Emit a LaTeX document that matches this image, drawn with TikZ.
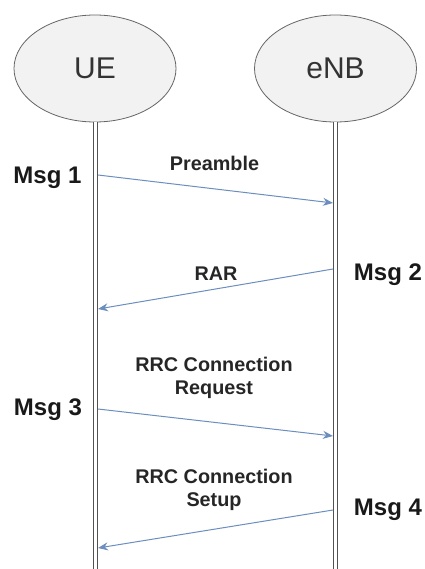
\documentclass[tikz,border=0pt]{standalone}
\usepackage{fontspec}
\setmainfont{Liberation Sans}
\usetikzlibrary{arrows.meta,shapes.geometric}
\definecolor{lifegray}{HTML}{333333}
\definecolor{entfill}{HTML}{F2F2F2}
\definecolor{entline}{HTML}{666666}
\definecolor{msgblue}{HTML}{6C8EBF}
\tikzset{
  entity/.style={ellipse, draw=entline, fill=entfill, line width=0.8pt,
    minimum width=162pt, minimum height=107pt, inner sep=0pt,
    text=lifegray, font=\fontsize{30}{36}\selectfont},
  lifeline/.style={draw=lifegray!85, line width=0.9pt, double=white, double distance=3.6pt},
  msgarrow/.style={draw=msgblue, line width=1pt, -{Stealth[length=10pt,width=8pt]}},
  msgtag/.style={font=\bfseries\fontsize{24}{28}\selectfont, text=black!90, inner sep=0pt},
  msglabel/.style={font=\bfseries\fontsize{19.8}{23}\selectfont, text=black!85,
    align=center, inner sep=0pt}
}
\begin{document}
\begin{tikzpicture}[x=1pt,y=-1pt]
  \useasboundingbox (0,0) rectangle (424,569);

  % participants
  \node[entity] (ue)  at (95,68.5)  {UE};
  \node[entity] (enb) at (335.5,68.5) {eNB};

  % lifelines
  \coordinate (ueend)  at (95.5,572);
  \coordinate (enbend) at (335.5,572);
  \draw[lifeline] (95.5,0 |- ue.south) -- (ueend);
  \draw[lifeline] (335.5,0 |- enb.south) -- (enbend);

  % message end points on the lifelines
  \coordinate (m1a) at (98,175);  \coordinate (m1b) at (333,203);
  \coordinate (m2a) at (333,269); \coordinate (m2b) at (98,309);
  \coordinate (m3a) at (98,409);  \coordinate (m3b) at (333,436);
  \coordinate (m4a) at (333,510); \coordinate (m4b) at (98,548);

  % messages
  \draw[msgarrow] (m1a) -- (m1b);
  \draw[msgarrow] (m2a) -- (m2b);
  \draw[msgarrow] (m3a) -- (m3b);
  \draw[msgarrow] (m4a) -- (m4b);

  % message names
  \node[msglabel] (l1) at (214.5,163) {Preamble};
  \node[msglabel] (l2) at (216,274) {RAR};
  \node[msglabel] (l3) at (214,378) {RRC Connection\\Request};
  \node[msglabel] (l4) at (214,490) {RRC Connection\\Setup};

  % message numbers
  \node[msgtag] (t1) at (47.5,177.5) {Msg 1};
  \node[msgtag] (t2) at (388,274.5) {Msg 2};
  \node[msgtag] (t3) at (48,410) {Msg 3};
  \node[msgtag] (t4) at (388,510) {Msg 4};
\end{tikzpicture}
\end{document}
